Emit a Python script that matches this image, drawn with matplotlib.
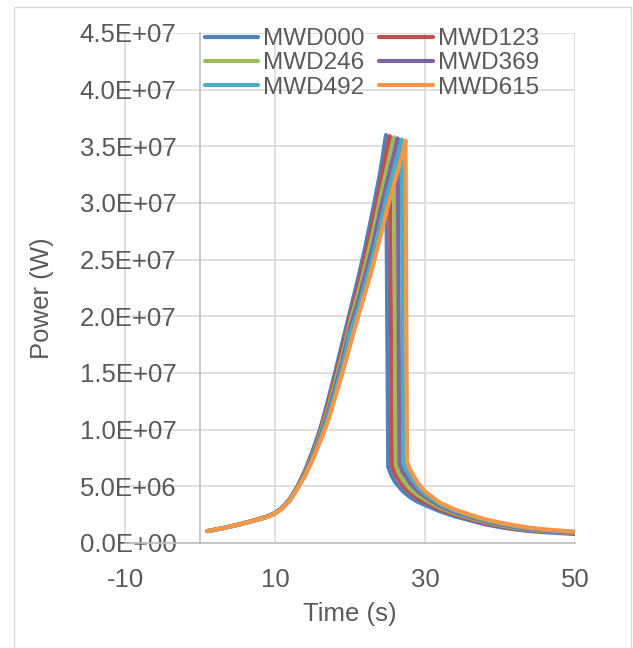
import matplotlib.pyplot as plt
from matplotlib.patches import Rectangle

plt.rcParams["font.family"] = ["Liberation Sans", "DejaVu Sans"]
plt.rcParams["axes.unicode_minus"] = False

# series: time (s) and power (MW, scaled to W below)
names = ["MWD000", "MWD123", "MWD246", "MWD369", "MWD492", "MWD615"]
colors = ["#4F81BD", "#C0504D", "#9BBB59", "#8064A2", "#4BACC6", "#F79646"]

t_mwd000 = [1, 3, 5, 7, 9, 10, 11, 12, 13, 14, 15, 16, 17, 18, 19, 20, 21, 22, 23, 24, 24.8,
            25.1, 25.5, 26, 27, 28, 29, 30, 32, 34, 36, 38, 40, 42, 44, 46, 48, 50]
p_mwd000 = [1.05, 1.3, 1.6, 1.95, 2.35, 2.65, 3.15, 3.9, 5.0, 6.4, 8.1, 10.0, 12.4, 15.0, 17.7,
            20.4, 23.1, 26.0, 29.2, 32.6, 36.0,
            6.7, 6.0, 5.4, 4.6, 4.05, 3.65, 3.35, 2.8, 2.35, 2.0, 1.65, 1.4, 1.2, 1.05, 0.95, 0.87, 0.8]

t_mwd123 = [1, 3, 5, 7, 9, 10, 11, 12, 13, 14, 15, 16, 17, 18, 19, 20, 21, 22, 23, 24, 25, 25.3,
            25.6, 26, 27, 28, 29, 30, 32, 34, 36, 38, 40, 42, 44, 46, 48, 50]
p_mwd123 = [1.05, 1.3, 1.6, 1.95, 2.34, 2.64, 3.13, 3.87, 4.96, 6.3, 7.94, 9.78, 12.04, 14.56, 17.16,
            19.92, 22.44, 25.2, 28.2, 31.5, 34.9, 35.9,
            6.8, 6.1, 5.1, 4.45, 3.95, 3.6, 2.95, 2.5, 2.1, 1.75, 1.5, 1.27, 1.11, 1.0, 0.92, 0.84]

t_mwd246 = [1, 3, 5, 7, 9, 10, 11, 12, 13, 14, 15, 16, 17, 18, 19, 20, 21, 22, 23, 24, 25, 25.85,
            26.1, 26.5, 27, 28, 29, 30, 32, 34, 36, 38, 40, 42, 44, 46, 48, 50]
p_mwd246 = [1.05, 1.3, 1.6, 1.94, 2.33, 2.63, 3.11, 3.84, 4.92, 6.2, 7.78, 9.56, 11.68, 14.12, 16.62,
            19.44, 21.78, 24.4, 27.2, 30.3, 33.3, 35.8,
            6.9, 6.2, 5.6, 4.8, 4.25, 3.85, 3.1, 2.6, 2.2, 1.85, 1.57, 1.34, 1.17, 1.05, 0.96, 0.88]

t_mwd369 = [1, 3, 5, 7, 9, 10, 11, 12, 13, 14, 15, 16, 17, 18, 19, 20, 21, 22, 23, 24, 25, 26, 26.35,
            26.6, 27, 28, 29, 30, 32, 34, 36, 38, 40, 42, 44, 46, 48, 50]
p_mwd369 = [1.05, 1.3, 1.6, 1.94, 2.32, 2.62, 3.09, 3.81, 4.88, 6.1, 7.62, 9.34, 11.32, 13.68, 16.08,
            18.96, 21.12, 23.6, 26.1, 29.2, 32.0, 34.7, 35.7,
            7.0, 6.3, 5.3, 4.6, 4.1, 3.25, 2.72, 2.3, 1.93, 1.65, 1.41, 1.23, 1.1, 1.0, 0.92]

t_mwd492 = [1, 3, 5, 7, 9, 10, 11, 12, 13, 14, 15, 16, 17, 18, 19, 20, 21, 22, 23, 24, 25, 26, 26.9,
            27.1, 27.5, 28, 29, 30, 32, 34, 36, 38, 40, 42, 44, 46, 48, 50]
p_mwd492 = [1.05, 1.3, 1.6, 1.93, 2.31, 2.61, 3.07, 3.78, 4.84, 6.0, 7.46, 9.12, 10.96, 13.24, 15.54,
            18.48, 20.46, 22.8, 25.2, 28.0, 30.9, 33.3, 35.6,
            7.1, 6.4, 5.9, 4.95, 4.3, 3.4, 2.83, 2.4, 2.02, 1.72, 1.48, 1.29, 1.15, 1.05, 0.96]

t_mwd615 = [1, 3, 5, 7, 9, 10, 11, 12, 13, 14, 15, 16, 17, 18, 19, 20, 21, 22, 23, 24, 25, 26, 27, 27.4,
            27.6, 28, 29, 30, 32, 34, 36, 38, 40, 42, 44, 46, 48, 50]
p_mwd615 = [1.05, 1.3, 1.6, 1.93, 2.3, 2.6, 3.05, 3.75, 4.8, 5.9, 7.3, 8.9, 10.6, 12.8, 15.0,
            17.4, 19.8, 22.0, 24.3, 26.9, 29.6, 32.0, 34.3, 35.5,
            7.2, 6.5, 5.35, 4.55, 3.55, 2.95, 2.5, 2.1, 1.8, 1.55, 1.35, 1.2, 1.1, 1.0]

times = [t_mwd000, t_mwd123, t_mwd246, t_mwd369, t_mwd492, t_mwd615]
powers = [p_mwd000, p_mwd123, p_mwd246, p_mwd369, p_mwd492, p_mwd615]

x_ticks = [-10, 10, 30, 50]
y_ticks = [i * 5e6 for i in range(10)]
y_tick_labels = ["0.0E+00", "5.0E+06", "1.0E+07", "1.5E+07", "2.0E+07",
                 "2.5E+07", "3.0E+07", "3.5E+07", "4.0E+07", "4.5E+07"]

W, H = 633, 648
FS = 18.5
GRAY_TXT = "#595959"
fig = plt.figure(figsize=(W / 100, H / 100), dpi=100)
ax = fig.add_axes([125 / W, 1 - 543 / H, 450 / W, 510 / H])

# outer chart border
fig.patches.append(Rectangle((14 / W, -0.02), 617 / W, 1 - 7 / H + 0.02, transform=fig.transFigure,
                             fill=False, edgecolor="#d9d9d9", linewidth=1.0))

lines = []
for t, p, name, c in zip(times, powers, names, colors):
    (ln,) = ax.plot(t, [v * 1e6 for v in p], color=c, lw=3, label=name,
                    solid_joinstyle="round", solid_capstyle="round")
    lines.append(ln)

ax.set_xlim(-10, 50)
ax.set_ylim(0, 4.5e7)
ax.set_xticks(x_ticks)
ax.set_yticks(y_ticks)
ax.set_yticklabels(y_tick_labels)
ax.grid(True, color="#d9d9d9", lw=1.2)
ax.set_axisbelow(True)
ax.axvline(-10, color="#d9d9d9", lw=1.2, clip_on=False, zorder=0.5)

for s in ["top", "right"]:
    ax.spines[s].set_visible(False)
ax.spines["left"].set_position(("data", 0))
ax.spines["left"].set_color("#bfbfbf")
ax.spines["bottom"].set_color("#bfbfbf")
ax.spines["left"].set_linewidth(1.2)
ax.spines["bottom"].set_linewidth(1.2)
ax.tick_params(length=0, labelsize=FS, labelcolor=GRAY_TXT)
ax.tick_params(axis="y", pad=17)
ax.tick_params(axis="x", pad=18)

fig.text(350 / W, 1 - 614 / H, "Time (s)", ha="center", va="center", fontsize=FS, color=GRAY_TXT)
fig.text(42 / W, 1 - 298 / H, "Power (W)", ha="center", va="center", rotation=90,
         fontsize=FS, color=GRAY_TXT)

# Excel fills the legend row by row
order = [0, 2, 4, 1, 3, 5]
leg = ax.legend([lines[i] for i in order], [names[i] for i in order], ncol=2,
                loc="upper left", bbox_to_anchor=(205 / W, 1 - 28 / H),
                bbox_transform=fig.transFigure, frameon=False, fontsize=17.5,
                handlelength=2.2, handletextpad=0.2, columnspacing=0.6,
                labelspacing=0.1, borderpad=0, borderaxespad=0)
for txt in leg.get_texts():
    txt.set_color(GRAY_TXT)
for h in leg.legend_handles:
    h.set_linewidth(3)

fig.savefig("out.png", dpi=100)
